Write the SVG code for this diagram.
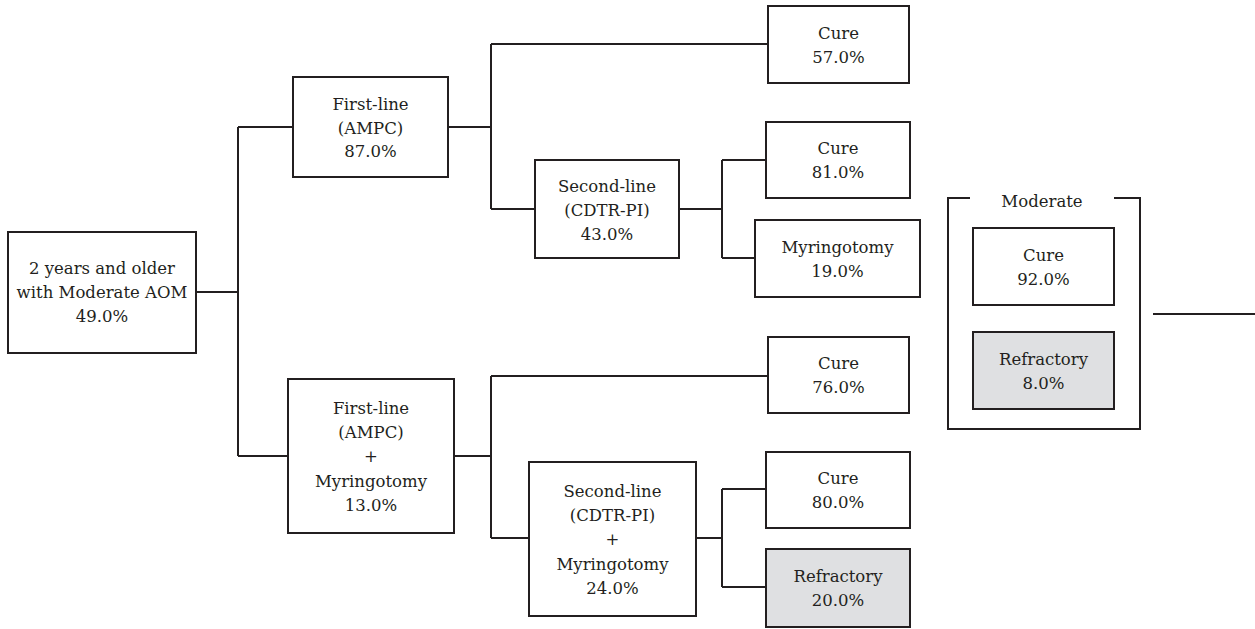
<svg xmlns="http://www.w3.org/2000/svg" width="1255" height="629" viewBox="0 0 1255 629">
<style>
.b{fill:#fff;stroke:#231f20;stroke-width:2}
.g{fill:#dfe0e2;stroke:#231f20;stroke-width:2}
.c{fill:none;stroke:#231f20;stroke-width:2}
.t text{font-size:16.5px;fill:#231f20;text-anchor:middle}
</style>
<rect width="1255" height="629" fill="#fff"/>
<g id="connectors">
<path class="c" d="M196 292H238M238 127V456M238 127H293M238 456H288"/>
<path class="c" d="M448 127H491M491 44V209M491 44H768M491 209H535"/>
<path class="c" d="M679 209H722M722 160V258M722 160H766M722 258H755"/>
<path class="c" d="M454 456H491M491 376V538M491 376H768M491 538H529"/>
<path class="c" d="M696 538H722M722 489V587M722 489H766M722 587H766"/>
<path class="c" d="M1153 314H1255"/>
</g>
<g class="t" font-family="'DejaVu Serif', 'Liberation Serif', serif">
<g id="root"><rect class="b" x="8" y="232" width="188" height="121"/>
<text x="102" y="274">2 years and older</text><text x="102" y="298">with Moderate AOM</text><text x="102" y="322">49.0%</text></g>
<g id="first1"><rect class="b" x="293" y="77" width="155" height="100"/>
<text x="370.5" y="110">First-line</text><text x="370.5" y="134">(AMPC)</text><text x="370.5" y="157">87.0%</text></g>
<g id="cure57"><rect class="b" x="768" y="6" width="141" height="77"/>
<text x="838.5" y="39">Cure</text><text x="838.5" y="63">57.0%</text></g>
<g id="second1"><rect class="b" x="535" y="160" width="144" height="98"/>
<text x="607" y="192">Second-line</text><text x="607" y="216">(CDTR-PI)</text><text x="607" y="240">43.0%</text></g>
<g id="cure81"><rect class="b" x="766" y="122" width="144" height="76"/>
<text x="838" y="154">Cure</text><text x="838" y="178">81.0%</text></g>
<g id="myr19"><rect class="b" x="755" y="220" width="165" height="77"/>
<text x="837.5" y="253">Myringotomy</text><text x="837.5" y="277">19.0%</text></g>
<g id="first2"><rect class="b" x="288" y="379" width="166" height="154"/>
<text x="371" y="414">First-line</text><text x="371" y="438">(AMPC)</text><text x="371" y="462">+</text><text x="371" y="487">Myringotomy</text><text x="371" y="511">13.0%</text></g>
<g id="cure76"><rect class="b" x="768" y="337" width="141" height="76"/>
<text x="838.5" y="369">Cure</text><text x="838.5" y="393">76.0%</text></g>
<g id="second2"><rect class="b" x="529" y="462" width="167" height="154"/>
<text x="612.5" y="497">Second-line</text><text x="612.5" y="521">(CDTR-PI)</text><text x="612.5" y="545">+</text><text x="612.5" y="570">Myringotomy</text><text x="612.5" y="594">24.0%</text></g>
<g id="cure80"><rect class="b" x="766" y="452" width="144" height="76"/>
<text x="838" y="484">Cure</text><text x="838" y="508">80.0%</text></g>
<g id="refr20"><rect class="g" x="766" y="549" width="144" height="78"/>
<text x="838" y="582">Refractory</text><text x="838" y="606">20.0%</text></g>
<g id="moderate"><path class="c" d="M970 198H948V429H1140V198H1114"/>
<text x="1042" y="207">Moderate</text></g>
<g id="cure92"><rect class="b" x="973" y="228" width="141" height="77"/>
<text x="1043.5" y="261">Cure</text><text x="1043.5" y="285">92.0%</text></g>
<g id="refr8"><rect class="g" x="973" y="332" width="141" height="77"/>
<text x="1043.5" y="365">Refractory</text><text x="1043.5" y="389">8.0%</text></g>
</g>
</svg>
